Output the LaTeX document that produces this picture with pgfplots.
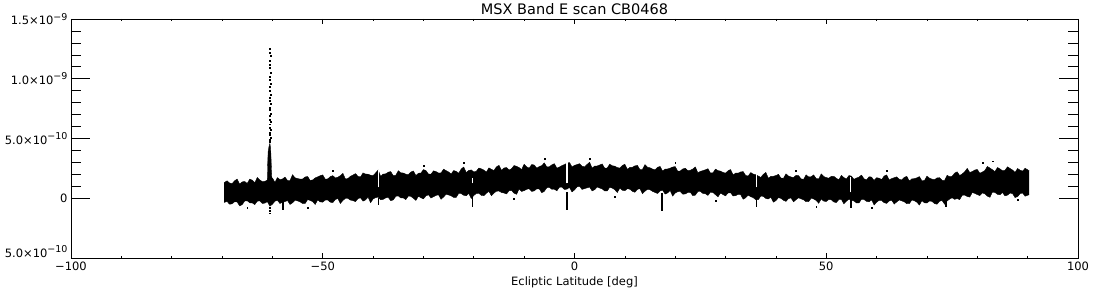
\documentclass[border=0pt]{standalone}
\usepackage{fontspec}
\setmainfont{DejaVu Sans}
\usepackage{pgfplots}
\pgfplotsset{compat=1.18}
\usepgfplotslibrary{fillbetween}
\usepackage{pgfplotstable}
\newcommand{\sci}[2]{#1×10\raisebox{0.75ex}{\fontsize{9.5}{10}\selectfont #2}}

% upper envelope of the noise band (units of 1e-10)
\pgfplotstableread{
x y
-69.6 1.30
-69.0 1.46
-68.5 1.27
-68.0 1.23
-67.5 1.46
-67.0 1.60
-66.5 1.18
-66.0 1.37
-65.5 1.40
-65.0 1.24
-64.5 1.60
-64.0 1.51
-63.5 1.30
-63.0 1.73
-62.5 1.52
-62.0 1.40
-61.5 1.41
-61.0 1.52
-60.5 1.60
-60.0 1.70
-59.5 1.33
-59.0 1.73
-58.5 1.56
-58.0 1.61
-57.5 1.77
-57.0 1.49
-56.5 1.48
-56.0 1.97
-55.5 1.71
-55.0 1.65
-54.5 1.60
-54.0 1.61
-53.5 1.78
-53.0 1.82
-52.5 1.49
-52.0 1.53
-51.5 1.70
-51.0 1.79
-50.5 1.89
-50.0 1.95
-49.5 1.59
-49.0 1.62
-48.5 1.81
-48.0 1.89
-47.5 1.70
-47.0 1.76
-46.5 1.89
-46.0 2.08
-45.5 1.61
-45.0 1.65
-44.5 1.84
-44.0 1.94
-43.5 2.06
-43.0 1.83
-42.5 1.78
-42.0 2.12
-41.5 2.02
-41.0 2.01
-40.5 1.93
-40.0 1.90
-39.5 2.12
-39.0 2.36
-38.5 1.83
-38.0 2.02
-37.5 2.04
-37.0 2.18
-36.5 2.23
-36.0 1.89
-35.5 1.92
-35.0 2.30
-34.5 2.13
-34.0 2.11
-33.5 2.01
-33.0 1.97
-32.5 2.19
-32.0 2.28
-31.5 1.90
-31.0 2.09
-30.5 2.11
-30.0 2.40
-29.5 2.31
-29.0 2.02
-28.5 2.01
-28.0 2.29
-27.5 2.23
-27.0 2.11
-26.5 2.12
-26.0 2.43
-25.5 2.31
-25.0 2.20
-24.5 2.03
-24.0 2.32
-23.5 2.25
-23.0 2.09
-22.5 2.45
-22.0 2.61
-21.5 2.15
-21.0 2.33
-20.5 2.37
-20.0 2.20
-19.5 2.26
-19.0 2.53
-18.5 2.46
-18.0 2.36
-17.5 2.19
-17.0 2.54
-16.5 2.42
-16.0 2.32
-15.5 2.63
-15.0 2.75
-14.5 2.34
-14.0 2.53
-13.5 2.57
-13.0 2.36
-12.5 2.47
-12.0 2.74
-11.5 2.67
-11.0 2.57
-10.5 2.40
-10.0 2.85
-9.5 2.63
-9.0 2.52
-8.5 2.82
-8.0 2.78
-7.5 2.52
-7.0 2.65
-6.5 2.73
-6.0 2.96
-5.5 2.62
-5.0 2.63
-4.5 2.80
-4.0 2.89
-3.5 2.52
-3.0 2.61
-2.5 2.73
-2.0 2.82
-1.5 2.93
-1.0 2.99
-0.5 2.62
0.0 2.75
0.5 2.82
1.0 2.89
1.5 2.68
2.0 2.62
2.5 2.83
3.0 3.01
3.5 2.52
4.0 2.69
4.5 2.70
5.0 2.78
5.5 2.87
6.0 2.51
6.5 2.53
7.0 2.85
7.5 2.72
8.0 2.68
8.5 2.57
9.0 2.52
9.5 2.73
10.0 2.85
10.5 2.41
11.0 2.58
11.5 2.59
12.0 2.71
12.5 2.75
13.0 2.39
13.5 2.41
14.0 2.82
14.5 2.59
15.0 2.55
15.5 2.44
16.0 2.38
16.5 2.59
17.0 2.66
17.5 2.27
18.0 2.44
18.5 2.45
19.0 2.52
19.5 2.61
20.0 2.65
20.5 2.27
21.0 2.28
21.5 2.45
22.0 2.51
22.5 2.30
23.0 2.34
23.5 2.45
24.0 2.62
24.5 2.13
25.0 2.25
25.5 2.31
26.0 2.38
26.5 2.47
27.0 2.11
27.5 2.13
28.0 2.44
28.5 2.31
29.0 2.27
29.5 2.16
30.0 2.10
30.5 2.30
31.0 2.40
31.5 1.95
32.0 2.10
32.5 2.10
33.0 2.20
33.5 2.23
34.0 1.90
34.5 1.86
35.0 2.15
35.5 2.02
36.0 1.97
36.5 1.86
37.0 1.74
37.5 2.00
38.0 2.16
38.5 1.67
39.0 1.83
39.5 1.84
40.0 1.90
40.5 2.00
41.0 1.69
41.5 1.67
42.0 2.04
42.5 1.86
43.0 1.78
43.5 1.73
44.0 1.92
44.5 1.89
45.0 1.62
45.5 1.58
46.0 1.96
46.5 1.78
47.0 1.80
47.5 1.95
48.0 1.65
48.5 1.62
49.0 2.04
49.5 1.82
50.0 1.73
50.5 1.68
51.0 1.83
51.5 1.84
52.0 1.67
52.5 1.54
53.0 1.91
53.5 1.73
54.0 1.61
54.5 1.90
55.0 1.85
55.5 1.58
56.0 1.69
56.5 1.77
57.0 1.94
57.5 1.63
58.0 1.53
58.5 1.80
59.0 1.77
59.5 1.49
60.0 1.72
60.5 1.68
61.0 1.56
61.5 1.86
62.0 1.95
62.5 1.53
63.0 1.65
63.5 1.72
64.0 1.79
64.5 1.59
65.0 1.53
65.5 1.75
66.0 1.83
66.5 1.44
67.0 1.62
67.5 1.64
68.0 1.71
68.5 1.81
69.0 1.46
69.5 1.48
70.0 1.85
70.5 1.68
71.0 1.60
71.5 1.55
72.0 1.70
72.5 1.72
73.0 1.50
73.5 1.48
74.0 1.92
74.5 1.80
75.0 1.84
75.5 2.10
76.0 2.21
76.5 1.90
77.0 2.03
77.5 2.22
78.0 2.50
78.5 2.16
79.0 2.23
79.5 2.36
80.0 2.41
80.5 2.09
81.0 2.19
81.5 2.32
82.0 2.66
82.5 2.53
83.0 2.39
83.5 2.23
84.0 2.57
84.5 2.46
85.0 2.30
85.5 2.34
86.0 2.63
86.5 2.49
87.0 2.36
87.5 2.17
88.0 2.49
88.5 2.35
89.0 2.27
89.5 2.51
90.3 2.30
}\bandtop

% lower envelope of the noise band (units of 1e-10)
\pgfplotstableread{
x y
-69.6 -0.35
-69.0 -0.27
-68.5 -0.50
-68.0 -0.46
-67.5 -0.29
-67.0 -0.31
-66.5 -0.64
-66.0 -0.53
-65.5 -0.23
-65.0 -0.21
-64.5 -0.38
-64.0 -0.39
-63.5 -0.53
-63.0 -0.24
-62.5 -0.22
-62.0 -0.43
-61.5 -0.41
-61.0 -0.28
-60.5 -0.66
-60.0 -0.50
-59.5 -0.25
-59.0 -0.17
-58.5 -0.44
-58.0 -0.34
-57.5 -0.28
-57.0 -0.19
-56.5 -0.52
-56.0 -0.38
-55.5 -0.16
-55.0 -0.22
-54.5 -0.30
-54.0 -0.44
-53.5 -0.44
-53.0 -0.11
-52.5 -0.18
-52.0 -0.28
-51.5 -0.52
-51.0 -0.13
-50.5 -0.31
-50.0 -0.32
-49.5 -0.15
-49.0 -0.15
-48.5 -0.33
-48.0 -0.36
-47.5 -0.11
-47.0 -0.02
-46.5 -0.44
-46.0 -0.18
-45.5 -0.02
-45.0 -0.02
-44.5 -0.15
-44.0 -0.20
-43.5 -0.28
-43.0 -0.03
-42.5 0.04
-42.0 -0.24
-41.5 -0.14
-41.0 0.10
-40.5 -0.37
-40.0 -0.06
-39.5 0.05
-39.0 0.10
-38.5 -0.13
-38.0 -0.09
-37.5 0.03
-37.0 0.08
-36.5 -0.20
-36.0 -0.14
-35.5 0.16
-35.0 0.20
-34.5 0.03
-34.0 0.03
-33.5 -0.11
-33.0 0.19
-32.5 0.16
-32.0 0.00
-31.5 -0.18
-31.0 0.17
-30.5 0.04
-30.0 -0.05
-29.5 0.20
-29.0 0.29
-28.5 0.02
-28.0 0.13
-27.5 0.24
-27.0 0.29
-26.5 -0.09
-26.0 0.11
-25.5 0.33
-25.0 0.28
-24.5 0.20
-24.0 0.07
-23.5 0.07
-23.0 0.41
-22.5 0.39
-22.0 0.25
-21.5 0.21
-21.0 0.41
-20.5 -0.02
-20.0 0.23
-19.5 0.40
-19.0 0.42
-18.5 0.24
-18.0 0.22
-17.5 0.42
-17.0 0.58
-16.5 0.21
-16.0 0.43
-15.5 0.59
-15.0 0.61
-14.5 0.48
-14.0 0.44
-13.5 0.36
-13.0 0.63
-12.5 0.65
-12.0 0.43
-11.5 0.33
-11.0 0.79
-10.5 0.57
-10.0 0.64
-9.5 0.75
-9.0 0.80
-8.5 0.57
-8.0 0.62
-7.5 0.79
-7.0 0.79
-6.5 0.46
-6.0 0.58
-5.5 0.88
-5.0 0.92
-4.5 0.75
-4.0 0.76
-3.5 0.62
-3.0 0.92
-2.5 0.94
-2.0 0.74
-1.5 0.76
-1.0 0.91
-0.5 0.53
0.0 0.70
0.5 0.95
1.0 1.01
1.5 0.74
2.0 0.81
2.5 0.87
3.0 0.94
3.5 0.61
4.0 0.72
4.5 0.94
5.0 0.86
5.5 0.78
6.0 0.61
6.5 0.61
7.0 0.92
7.5 0.85
8.0 0.72
8.5 0.48
9.0 0.85
9.5 0.67
10.0 0.63
10.5 0.80
11.0 0.76
11.5 0.58
12.0 0.50
12.5 0.75
13.0 0.80
13.5 0.38
14.0 0.59
14.5 0.75
15.0 0.71
15.5 0.58
16.0 0.48
16.5 0.40
17.0 0.61
17.5 0.68
18.0 0.35
18.5 0.45
19.0 0.65
19.5 0.18
20.0 0.44
20.5 0.55
21.0 0.57
21.5 0.34
22.0 0.36
22.5 0.48
23.0 0.50
23.5 0.22
24.0 0.26
24.5 0.56
25.0 0.57
25.5 0.40
26.0 0.38
26.5 0.24
27.0 0.51
27.5 0.48
28.0 0.30
28.5 0.12
29.0 0.44
29.5 0.31
30.0 0.20
30.5 0.45
31.0 0.46
31.5 0.19
32.0 0.22
32.5 0.33
33.0 0.30
33.5 -0.08
34.0 0.04
34.5 0.26
35.0 0.13
35.5 0.05
36.0 -0.12
36.5 -0.12
37.0 0.18
37.5 0.16
38.0 -0.02
38.5 -0.06
39.0 0.10
39.5 -0.33
40.0 -0.20
40.5 0.05
41.0 -0.01
41.5 -0.17
42.0 -0.26
42.5 -0.03
43.0 0.03
43.5 -0.30
44.0 -0.12
44.5 0.04
45.0 -0.05
45.5 -0.13
46.0 -0.29
46.5 -0.29
47.0 0.01
47.5 -0.06
48.0 -0.18
48.5 -0.42
49.0 -0.06
49.5 -0.24
50.0 -0.27
50.5 -0.10
51.0 -0.13
51.5 -0.31
52.0 -0.36
52.5 -0.11
53.0 -0.09
53.5 -0.47
54.0 -0.24
54.5 -0.08
55.0 -0.15
55.5 -0.23
56.0 -0.39
56.5 -0.39
57.0 -0.08
57.5 -0.10
58.0 -0.26
58.5 -0.30
59.0 -0.13
59.5 -0.56
60.0 -0.34
60.5 -0.17
61.0 -0.19
61.5 -0.37
62.0 -0.43
62.5 -0.23
63.0 -0.16
63.5 -0.49
64.0 -0.30
64.5 -0.14
65.0 -0.22
65.5 -0.30
66.0 -0.46
66.5 -0.46
67.0 -0.14
67.5 -0.21
68.0 -0.33
68.5 -0.57
69.0 -0.20
69.5 -0.38
70.0 -0.40
70.5 -0.23
71.0 -0.26
71.5 -0.44
72.0 -0.50
72.5 -0.25
73.0 -0.18
73.5 -0.50
74.0 -0.23
74.5 -0.07
75.0 0.04
75.5 -0.09
76.0 -0.03
76.5 -0.11
77.0 0.25
77.5 0.27
78.0 0.15
78.5 0.10
79.0 0.48
79.5 0.41
80.0 0.31
80.5 0.22
81.0 0.45
81.5 0.37
82.0 0.18
82.5 0.08
83.0 0.51
83.5 0.49
84.0 0.33
84.5 0.29
85.0 0.48
85.5 0.20
86.0 0.26
86.5 0.43
87.0 0.39
87.5 0.06
88.0 0.14
88.5 0.39
89.0 0.44
89.5 0.17
90.3 0.30
}\bandbot

\begin{document}
\begin{tikzpicture}
\begin{axis}[
  at={(0pt,0pt)}, anchor=south west,
  scale only axis, width=1007pt, height=239pt,
  xmin=-100, xmax=100, ymin=-5, ymax=15,
  xtick={-100,-50,0,50,100},
  xticklabels={−100,−50,0,50,100},
  minor x tick num=4,
  ytick=\empty,
  major tick length=4.8pt, minor tick length=2.4pt,
  xtick pos=both, xticklabel pos=lower,
  tick align=inside,
  axis line style={line width=0.8pt},
  every tick/.style={black, line width=0.7pt},
  tick label style={font=\fontsize{11.5}{13}\selectfont},
  label style={font=\fontsize{11.5}{13}\selectfont},
  title style={font=\fontsize{14.5}{17}\selectfont, at={(axis description cs:0.5,1)}, anchor=base, yshift=-1.5pt},
  title={MSX Band E scan CB0468},
  xlabel={Ecliptic Latitude [deg]},
]
\addplot[black, line width=0.4pt, name path=top] table[x=x, y=y] {\bandtop};
\addplot[black, line width=0.4pt, name path=bot] table[x=x, y=y] {\bandbot};
\addplot[black] fill between[of=top and bot];

% white gaps in the band
\addplot[white, line width=1pt] coordinates {(-39.0,0.9) (-39.0,2.4)};
\addplot[white, line width=1pt] coordinates {(-20.2,1.25) (-20.2,1.7)};
\addplot[white, line width=1.2pt] coordinates {(-1.5,1.25) (-1.5,3.2)};
\addplot[white, line width=1pt] coordinates {(36.2,0.9) (36.2,2.2)};
\addplot[white, line width=1pt] coordinates {(54.9,0.5) (54.9,1.8)};

% dense part of the peak
\addplot[fill=black, draw=black, line width=0.3pt] coordinates {(-61.0,1.5) (-60.95,2.8) (-60.85,3.9) (-60.7,4.3) (-60.5,4.6) (-60.35,4.2) (-60.25,3.2) (-60.15,2.0) (-60.1,1.6)} -- cycle;

% downward spikes
\addplot[black, line width=1.4pt] coordinates {(-57.9,0) (-57.9,-1.0)};
\addplot[black, line width=1.2pt] coordinates {(-39.0,0) (-39.0,-0.6)};
\addplot[black, line width=1.4pt] coordinates {(-20.2,0.3) (-20.2,-0.75)};
\addplot[black, line width=1.4pt] coordinates {(-1.5,0.5) (-1.5,-1.0)};
\addplot[black, line width=1.4pt] coordinates {(17.4,0.4) (17.4,-1.1)};
\addplot[black, line width=1.4pt] coordinates {(36.2,0) (36.2,-0.75)};
\addplot[black, line width=1.2pt] coordinates {(54.9,0) (54.9,-0.85)};
\addplot[black, line width=1.4pt] coordinates {(73.8,0) (73.8,-0.75)};

% sparse samples of the peak and stray noise samples
\addplot[only marks, mark=square*, mark size=0.45pt, black] coordinates {
(-60.5,12.5) (-60.6,12.2) (-60.4,11.9) (-60.5,11.5) (-60.6,11.2) (-60.5,10.9)
(-60.4,10.5) (-60.6,10.2) (-60.5,9.9) (-60.4,9.6) (-60.6,9.3) (-60.5,9.0)
(-60.4,8.7) (-60.6,8.4) (-60.5,8.2) (-60.4,7.9) (-60.6,7.6) (-60.5,7.4)
(-60.4,7.1) (-60.6,6.9) (-60.5,6.6) (-60.4,6.4) (-60.6,6.2) (-60.5,5.9)
(-60.4,5.7) (-60.6,5.5) (-60.5,5.3) (-60.4,5.1) (-60.6,4.9) (-60.5,4.7)
(-60.5,-0.8) (-60.5,-1.05) (-60.5,-1.25)
(-48,2.3) (-30,2.7) (-22,3.0) (-6,3.3) (3,3.3) (20,3.0) (44,2.3) (62,2.3)
(81,3.0) (83,3.1) (-65,-0.8) (-53,-0.8) (-12,0.0) (8,0.1) (28,-0.2) (48,-0.7)
(59,-0.8) (88,-0.1)};
\end{axis}

\begin{axis}[
  at={(0pt,0pt)}, anchor=south west,
  scale only axis, width=1007pt, height=239pt,
  xmin=-100, xmax=100, ymin=-5, ymax=15,
  xtick=\empty,
  ytick={0,5,10,15},
  yticklabels={0,\sci{5.0}{−10},\sci{1.0}{−9},\sci{1.5}{−9}},
  extra y ticks={-5},
  extra y tick labels={\sci{5.0}{−10}},
  extra y tick style={yticklabel style={anchor=south east, yshift=-3pt}},
  minor y tick num=4,
  major tick length=19pt, minor tick length=10pt,
  ytick pos=both, yticklabel pos=left,
  tick align=inside,
  axis line style={line width=0.8pt},
  every tick/.style={black, line width=0.7pt},
  tick label style={font=\fontsize{11.5}{13}\selectfont},
]
\addplot[draw=none] coordinates {(0,0)};
\end{axis}
\pgfresetboundingbox
\path[use as bounding box] (-71pt,-42pt) rectangle (1029pt,258pt);
\end{tikzpicture}
\end{document}
